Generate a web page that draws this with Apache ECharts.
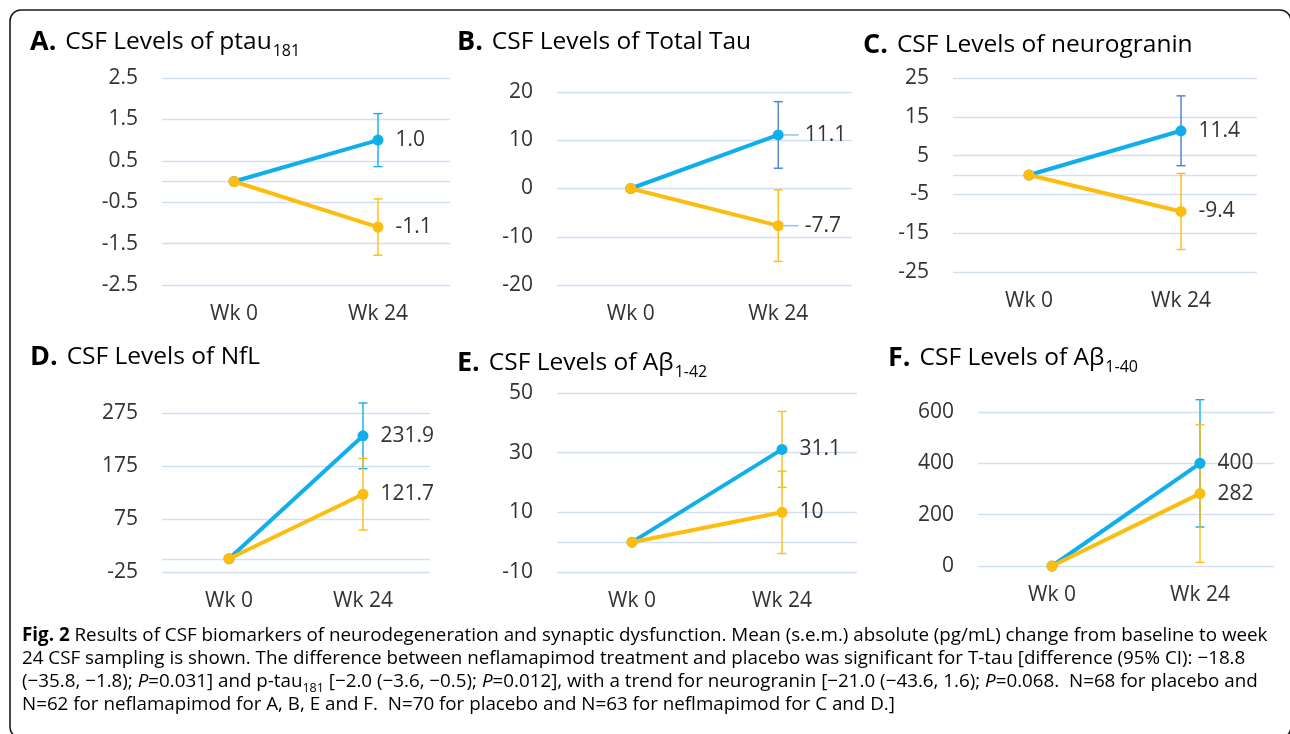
<!DOCTYPE html>
<html><head><meta charset="utf-8">
<script src="https://cdn.jsdelivr.net/npm/echarts@6/dist/echarts.min.js"></script>
<style>html,body{margin:0;padding:0;background:#fff}#c{width:1290px;height:734px}</style>
</head><body><div id="c"></div>
<script>
const categories = ['Wk 0', 'Wk 24'];

// A. ptau181
const ptauTicks = [-2.5, -1.5, -0.5, 0.5, 1.5, 2.5];
const ptauBlue = [0, 1.0], ptauBlueErr = 0.64, ptauBlueLabel = '1.0';
const ptauOrange = [0, -1.1], ptauOrangeErr = 0.68, ptauOrangeLabel = '-1.1';
// B. Total Tau
const ttauTicks = [-20, -10, 0, 10, 20];
const ttauBlue = [0, 11.1], ttauBlueErr = 6.9, ttauBlueLabel = '11.1';
const ttauOrange = [0, -7.7], ttauOrangeErr = 7.4, ttauOrangeLabel = '-7.7';
// C. neurogranin
const ngTicks = [-25, -15, -5, 5, 15, 25];
const ngBlue = [0, 11.4], ngBlueErr = 9.0, ngBlueLabel = '11.4';
const ngOrange = [0, -9.4], ngOrangeErr = 9.8, ngOrangeLabel = '-9.4';
// D. NfL
const nflTicks = [-25, 75, 175, 275];
const nflBlue = [0, 231.9], nflBlueErr = 62, nflBlueLabel = '231.9';
const nflOrange = [0, 121.7], nflOrangeErr = 67.5, nflOrangeLabel = '121.7';
// E. Abeta 1-42
const ab42Ticks = [-10, 10, 30, 50];
const ab42Blue = [0, 31.1], ab42BlueErr = 12.7, ab42BlueLabel = '31.1';
const ab42Orange = [0, 10], ab42OrangeErr = 13.8, ab42OrangeLabel = '10';
// F. Abeta 1-40
const ab40Ticks = [0, 200, 400, 600];
const ab40Blue = [0, 400], ab40BlueErr = 248, ab40BlueLabel = '400';
const ab40Orange = [0, 282], ab40OrangeErr = 268, ab40OrangeLabel = '282';

const BLUE = '#10aeed', ORANGE = '#fdbd10', DBLUE = '#4a7fd0', GRID = '#d3dff3', TXT = '#333333';
const FONT = 'Open Sans';
const FS = 21;

const panels = [
  {ticks: ptauTicks, b: ptauBlue, be: ptauBlueErr, bl: ptauBlueLabel, o: ptauOrange, oe: ptauOrangeErr, ol: ptauOrangeLabel,
   grid: {left: 162, top: 78, width: 288, height: 207}, zero: true, bErrColor: BLUE, leader: false},
  {ticks: ttauTicks, b: ttauBlue, be: ttauBlueErr, bl: ttauBlueLabel, o: ttauOrange, oe: ttauOrangeErr, ol: ttauOrangeLabel,
   grid: {left: 557, top: 92, width: 295, height: 193}, zero: false, bErrColor: DBLUE, leader: true},
  {ticks: ngTicks, b: ngBlue, be: ngBlueErr, bl: ngBlueLabel, o: ngOrange, oe: ngOrangeErr, ol: ngOrangeLabel,
   grid: {left: 953, top: 78, width: 304, height: 194}, zero: true, bErrColor: DBLUE, leader: false},
  {ticks: nflTicks, b: nflBlue, be: nflBlueErr, bl: nflBlueLabel, o: nflOrange, oe: nflOrangeErr, ol: nflOrangeLabel,
   grid: {left: 162, top: 413, width: 268, height: 159}, zero: true, bErrColor: BLUE, leader: false},
  {ticks: ab42Ticks, b: ab42Blue, be: ab42BlueErr, bl: ab42BlueLabel, o: ab42Orange, oe: ab42OrangeErr, ol: ab42OrangeLabel,
   grid: {left: 557, top: 393, width: 300, height: 179}, zero: true, bErrColor: ORANGE, leader: false},
  {ticks: ab40Ticks, b: ab40Blue, be: ab40BlueErr, bl: ab40BlueLabel, o: ab40Orange, oe: ab40OrangeErr, ol: ab40OrangeLabel,
   grid: {left: 978, top: 412, width: 296, height: 154}, zero: false, bErrColor: BLUE, leader: false}
];

function errRender(color) {
  return function (params, api) {
    const x = api.value(0), y = api.value(1), e = api.value(2);
    const top = api.coord([x, y + e]), bot = api.coord([x, y - e]);
    const hw = 4.5, st = {stroke: color, lineWidth: 1.4};
    return {type: 'group', children: [
      {type: 'line', shape: {x1: top[0], y1: top[1], x2: bot[0], y2: bot[1]}, style: st},
      {type: 'line', shape: {x1: top[0] - hw, y1: top[1], x2: top[0] + hw, y2: top[1]}, style: st},
      {type: 'line', shape: {x1: bot[0] - hw, y1: bot[1], x2: bot[0] + hw, y2: bot[1]}, style: st}
    ]};
  };
}

function lineData(vals, lab, leader) {
  return vals.map((v, i) => i === 0 ? {value: v} : {value: v, label: {show: true,
    formatter: leader ? '{l|}{v|' + lab + '}' : lab}});
}

const grids = [], xAxes = [], yAxes = [], series = [];
panels.forEach((p, k) => {
  grids.push(Object.assign({containLabel: false}, p.grid));
  xAxes.push({type: 'category', gridIndex: k, data: categories, boundaryGap: true,
    axisLine: {show: false}, axisTick: {show: false}, splitLine: {show: false},
    axisLabel: {fontFamily: FONT, fontSize: FS, color: TXT, margin: 19}});
  yAxes.push({type: 'value', gridIndex: k, min: p.ticks[0], max: p.ticks[p.ticks.length - 1],
    interval: p.ticks[1] - p.ticks[0],
    axisLine: {show: false}, axisTick: {show: false},
    splitLine: {show: true, lineStyle: {color: GRID, width: 1.3}},
    axisLabel: {fontFamily: FONT, fontSize: FS, color: TXT, margin: 24}});
  const labelBase = {position: 'right', distance: p.leader ? 0 : 12, fontFamily: FONT, fontSize: FS, color: TXT,
    rich: {l: {width: 15, height: 1.5, backgroundColor: '#9cc0e8'}, v: {fontFamily: FONT, fontSize: FS, color: TXT, padding: [0, 0, 0, 6]}}};
  series.push({type: 'custom', xAxisIndex: k, yAxisIndex: k, z: 1, renderItem: errRender(p.bErrColor),
    data: [[1, p.b[1], p.be]], silent: true});
  series.push({type: 'custom', xAxisIndex: k, yAxisIndex: k, z: 1, renderItem: errRender(ORANGE),
    data: [[1, p.o[1], p.oe]], silent: true});
  const bl = {type: 'line', xAxisIndex: k, yAxisIndex: k, z: 3, data: lineData(p.b, p.bl, p.leader),
    symbol: 'circle', symbolSize: 11, lineStyle: {color: BLUE, width: 4}, itemStyle: {color: BLUE},
    label: labelBase, animation: false};
  if (p.zero) bl.markLine = {silent: true, symbol: 'none', label: {show: false},
    lineStyle: {color: GRID, width: 1.3, type: 'solid'}, data: [{yAxis: 0}], z: 0};
  series.push(bl);
  series.push({type: 'line', xAxisIndex: k, yAxisIndex: k, z: 4, data: lineData(p.o, p.ol, p.leader),
    symbol: 'circle', symbolSize: 11, lineStyle: {color: ORANGE, width: 4}, itemStyle: {color: ORANGE},
    label: labelBase, animation: false});
});

function titleEl(x, y, letter, text, sub) {
  return {type: 'text', x: x, y: y, z: 10, style: {verticalAlign: 'middle',
    text: '{b|' + letter + '}{t|' + text + '}' + (sub ? '{s|' + sub + '}' : ''),
    rich: {
      b: {fontFamily: FONT, fontWeight: 'bold', fontSize: 27, color: '#262626', lineHeight: 34, padding: [0, 9, 0, 0]},
      t: {fontFamily: FONT, fontSize: 24.5, color: TXT, lineHeight: 34},
      s: {fontFamily: FONT, fontSize: 16, color: TXT, lineHeight: 16, padding: [18, 0, 0, 1]}
    }}};
}

const CF = 18.8;
const capRich = {
  n: {fontFamily: FONT, fontSize: CF, color: '#3a3a3a', lineHeight: 23},
  b: {fontFamily: FONT, fontSize: CF, fontWeight: 'bold', color: '#2a2a2a', lineHeight: 23},
  i: {fontFamily: FONT, fontSize: CF, fontStyle: 'italic', color: '#3a3a3a', lineHeight: 23},
  s: {fontFamily: FONT, fontSize: 12.5, color: '#3a3a3a', lineHeight: 12, padding: [12, 0, 0, 0]}
};
const captionLines = [
  '{b|Fig. 2}{n| Results of CSF biomarkers of neurodegeneration and synaptic dysfunction. Mean (s.e.m.) absolute (pg/mL) change from baseline to week}',
  '{n|24 CSF sampling is shown. The difference between neflamapimod treatment and placebo was significant for T-tau [difference (95% CI): \u221218.8}',
  '{n|(\u221235.8, \u22121.8); }{i|P}{n|=0.031] and p-tau}{s|181}{n| [\u22122.0 (\u22123.6, \u22120.5); }{i|P}{n|=0.012], with a trend for neurogranin [\u221221.0 (\u221243.6, 1.6); }{i|P}{n|=0.068.  N=68 for placebo and}',
  '{n|N=62 for neflamapimod for A, B, E and F.  N=70 for placebo and N=63 for neflmapimod for C and D.]}'
];
const capY = [636, 659, 682, 705];

const graphics = [
  {type: 'rect', z: 0, shape: {x: 10, y: 10, width: 1281, height: 728, r: 11},
   style: {fill: 'none', stroke: '#1a1a1a', lineWidth: 1.6}},
  titleEl(30, 42, 'A.', 'CSF Levels of ptau', '181'),
  titleEl(457, 42, 'B.', 'CSF Levels of Total Tau'),
  titleEl(863, 45, 'C.', 'CSF Levels of neurogranin'),
  titleEl(30, 357, 'D.', 'CSF Levels of NfL'),
  titleEl(457, 363, 'E.', 'CSF Levels of A\u03b2', '1-42'),
  titleEl(888, 358, 'F.', 'CSF Levels of A\u03b2', '1-40')
];
captionLines.forEach((t, i) => graphics.push({type: 'text', x: 22, y: capY[i], z: 10,
  style: {text: t, rich: capRich, verticalAlign: 'middle'}}));

const chart = echarts.init(document.getElementById('c'));
chart.setOption({
  animation: false,
  backgroundColor: '#fff',
  textStyle: {fontFamily: FONT},
  grid: grids, xAxis: xAxes, yAxis: yAxes, series: series, graphic: graphics
});
</script></body></html>
